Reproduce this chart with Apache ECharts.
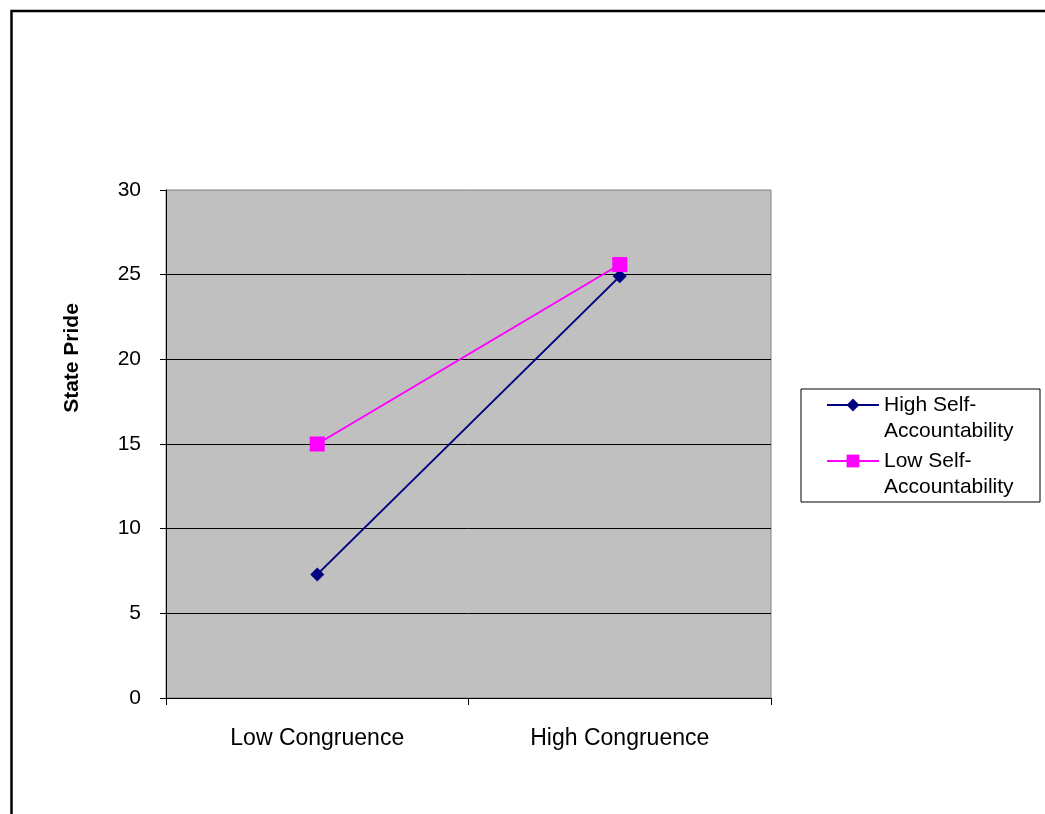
<!DOCTYPE html>
<html>
<head>
<meta charset="utf-8">
<script src="https://cdn.jsdelivr.net/npm/echarts@6/dist/echarts.min.js"></script>
<style>
    html, body {margin: 0; padding: 0; background: #fff;}
    #chart {width: 1045px; height: 814px;}
</style>
</head>
<body>
<div id="chart"></div>
<script>
const categories = ["Low Congruence", "High Congruence"];
const highSelf = [7.3, 24.9];
const lowSelf = [15.0, 25.6];
const yTicks = {min: 0, max: 30, interval: 5};

const font = "Liberation Sans, Arial, sans-serif";

const chart = echarts.init(document.getElementById("chart"));

chart.setOption({
    animation: false,
    backgroundColor: "#fff",
    grid: {
        left: 166,
        right: 274,
        top: 190,
        bottom: 116,
        show: true,
        backgroundColor: "#C0C0C0",
        borderColor: "#808080",
        borderWidth: 1
    },
    graphic: [
        // outer frame of the chart area
        {
            type: "rect",
            shape: {x: 11.5, y: 11, width: 1100, height: 900},
            style: {fill: "none", stroke: "#000", lineWidth: 2.5}
        },
        // legend frame
        {
            type: "rect",
            shape: {x: 801, y: 389, width: 239, height: 113},
            style: {fill: "#fff", stroke: "#000", lineWidth: 1},
            z: -1
        },
        {
            type: "text",
            x: 72,
            y: 358,
            rotation: Math.PI / 2,
            style: {
                text: "State Pride",
                font: "bold 21px " + font,
                fill: "#000",
                align: "center",
                verticalAlign: "middle"
            }
        }
    ],
    legend: {
        orient: "vertical",
        left: 826,
        top: 366,
        padding: 0,
        itemWidth: 52,
        itemHeight: 16,
        itemGap: -22,
        textStyle: {
            fontFamily: font,
            fontSize: 21,
            color: "#000",
            lineHeight: 26
        },
        // empty first line so the icon sits beside the first text line
        formatter: (name) => "\n" + name.replace("Self-", "Self-\n"),
        data: ["High Self-Accountability", "Low Self-Accountability"]
    },
    xAxis: {
        type: "category",
        data: categories,
        boundaryGap: true,
        axisLine: {lineStyle: {color: "#000", width: 1}},
        axisTick: {show: true, length: 7, lineStyle: {color: "#000"}},
        axisLabel: {
            margin: 29,
            fontFamily: font,
            fontSize: 23,
            color: "#000"
        },
        splitLine: {show: false}
    },
    yAxis: {
        type: "value",
        min: yTicks.min,
        max: yTicks.max,
        interval: yTicks.interval,
        axisLine: {show: true, lineStyle: {color: "#000", width: 1}},
        axisTick: {show: true, length: 6, lineStyle: {color: "#000"}},
        axisLabel: {
            margin: 25,
            fontFamily: font,
            fontSize: 21,
            color: "#000"
        },
        splitLine: {
            show: true,
            showMinLine: false,
            showMaxLine: false,
            lineStyle: {color: "#000", width: 1}
        }
    },
    series: [
        {
            name: "High Self-Accountability",
            type: "line",
            data: highSelf,
            color: "#000080",
            symbol: "diamond",
            symbolSize: 14,
            lineStyle: {width: 2, color: "#000080"},
            itemStyle: {color: "#000080"}
        },
        {
            name: "Low Self-Accountability",
            type: "line",
            data: lowSelf,
            color: "#FF00FF",
            symbol: "rect",
            symbolSize: 15,
            lineStyle: {width: 2, color: "#FF00FF"},
            itemStyle: {color: "#FF00FF"}
        }
    ]
});
</script>
</body>
</html>
